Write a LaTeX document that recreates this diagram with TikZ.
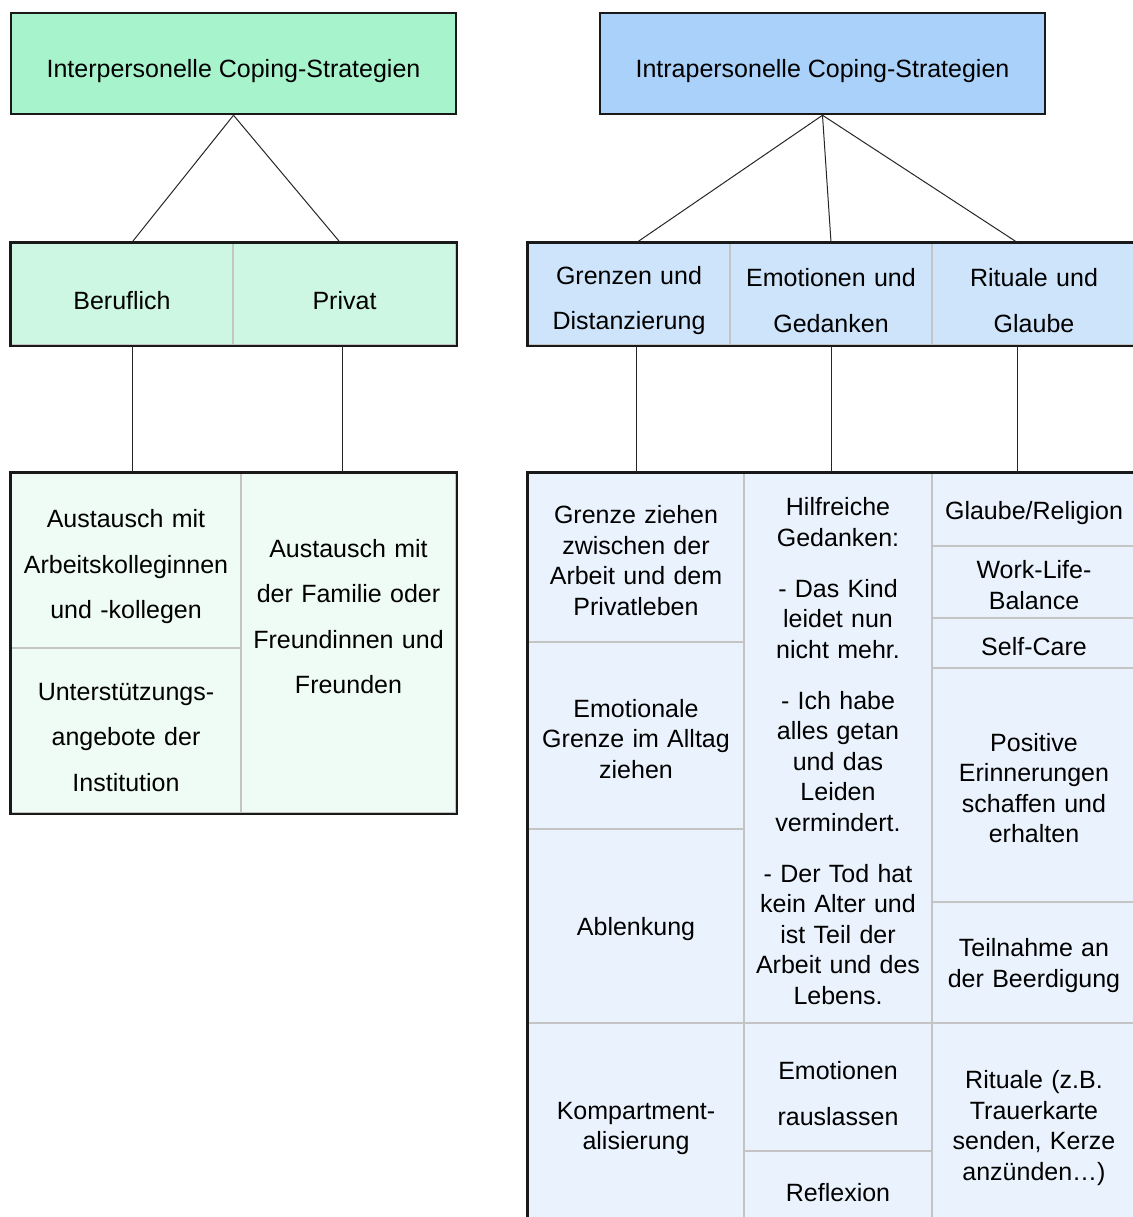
\documentclass[tikz,border=0pt]{standalone}
\usepackage{fontspec}
\setmainfont{Liberation Sans}

\definecolor{interTop}{HTML}{A6F3CC}
\definecolor{interMid}{HTML}{CEF7E3}
\definecolor{interLow}{HTML}{EFFCF5}
\definecolor{intraTop}{HTML}{A9D1F9}
\definecolor{intraMid}{HTML}{CDE4FA}
\definecolor{intraLow}{HTML}{EAF3FD}
\definecolor{cellgray}{HTML}{C4C4C4}

\begin{document}
\begin{tikzpicture}[x=1pt, y={(0pt,-1pt)}, font=\fontsize{25}{30.5}\selectfont]
\tikzstyle{TopStyle}=[draw=black!90, line width=2.5pt, minimum width=445pt, minimum height=101pt, inner sep=0pt, text height=29pt, text depth=0pt]
\tikzstyle{CellStyle}=[draw=cellgray, line width=1.5pt, inner sep=0pt, align=center, text width=187pt]
\tikzstyle{TightLines}=[font=\fontsize{25}{30.5}\selectfont, execute at begin node={\rule{0pt}{24.5pt}}]
\tikzstyle{WideLines}=[font=\fontsize{25}{45.5}\selectfont, execute at begin node={\rule{0pt}{31pt}}]
\tikzstyle{FrameStyle}=[draw=black!90, line width=2.5pt]
\tikzstyle{EdgeStyle}=[draw=black!85, line width=1pt]
\useasboundingbox (0,0) rectangle (1132,1217);
% top boxes
\node[TopStyle, fill=interTop] (inter) at (233.5,63.5) {Interpersonelle Coping-Strategien};
\node[TopStyle, fill=intraTop] (intra) at (822.5,63.5) {Intrapersonelle Coping-Strategien};
% interpersonal, middle row
\node[CellStyle, WideLines, fill=interMid, minimum width=222pt, minimum height=102pt] (beruf) at (122,294) {Beruflich};
\node[CellStyle, WideLines, fill=interMid, minimum width=223pt, minimum height=102pt] (privat) at (344.5,294) {Privat};
\draw[FrameStyle] (beruf.north west) rectangle (privat.south east);
% intrapersonal, middle row
\node[CellStyle, WideLines, fill=intraMid, minimum width=202pt, minimum height=102pt] (grenzen) at (629,294) {Grenzen und\\Distanzierung};
\node[CellStyle, WideLines, fill=intraMid, minimum width=202pt, minimum height=102pt] (emotionen) at (831,294) {Emotionen und\\Gedanken};
\node[CellStyle, WideLines, fill=intraMid, minimum width=204pt, minimum height=102pt] (rituale) at (1034,294) {Rituale und\\Glaube};
\draw[FrameStyle] (grenzen.north west) rectangle (rituale.south east);
% interpersonal, lower row
\node[CellStyle, WideLines, text width=212pt, fill=interLow, minimum width=230pt, minimum height=175pt] (kollegen) at (126,560.5) {Austausch mit\\Arbeitskolleginnen\\und -kollegen};
\node[CellStyle, WideLines, text width=212pt, fill=interLow, minimum width=230pt, minimum height=165pt] (angebote) at (126,730.5) {Unterstützungs-\\angebote der\\Institution};
\node[CellStyle, fill=interLow, minimum width=215pt, minimum height=340pt] (familie) at (348.5,643) {};
\node[WideLines, align=center, text width=205pt, inner sep=0pt] (familietext) at (348.5,610) {Austausch mit\\der Familie oder\\Freundinnen und\\Freunden};
\draw[FrameStyle] (kollegen.north west) rectangle (familie.south east);
% intrapersonal, lower row
\node[CellStyle, TightLines, text width=210pt, fill=intraLow, minimum width=216pt, minimum height=169pt] (ziehen) at (636,557.5) {Grenze ziehen\\zwischen der\\Arbeit und dem\\Privatleben};
\node[CellStyle, TightLines, text width=210pt, fill=intraLow, minimum width=216pt, minimum height=187pt] (alltag) at (636,735.5) {Emotionale\\Grenze im Alltag\\ziehen};
\node[CellStyle, TightLines, text width=210pt, fill=intraLow, minimum width=216pt, minimum height=194pt] (ablenkung) at (636,926) {Ablenkung};
\node[CellStyle, TightLines, text width=210pt, fill=intraLow, minimum width=216pt, minimum height=204pt] (kompart) at (636,1125) {Kompartment-\\alisierung};
\node[CellStyle, TightLines, fill=intraLow, minimum width=188pt, minimum height=550pt] (gedanken) at (838,748) {Hilfreiche\\Gedanken:\\[20.5pt]- Das Kind\\leidet nun\\nicht mehr.\\[20.5pt]- Ich habe\\alles getan\\und das\\Leiden\\vermindert.\\[20.5pt]- Der Tod hat\\kein Alter und\\ist Teil der\\Arbeit und des\\Lebens.};
\node[CellStyle, WideLines, fill=intraLow, minimum width=188pt, minimum height=128pt] (rauslassen) at (838,1087) {Emotionen\\rauslassen};
\node[CellStyle, TightLines, fill=intraLow, minimum width=188pt, minimum height=76pt] (reflexion) at (838,1189) {Reflexion};
\node[CellStyle, TightLines, fill=intraLow, minimum width=204pt, minimum height=73pt] (religion) at (1034,509.5) {Glaube/Religion};
\node[CellStyle, TightLines, fill=intraLow, minimum width=204pt, minimum height=72pt] (balance) at (1034,582) {Work-Life-\\Balance};
\node[CellStyle, TightLines, fill=intraLow, minimum width=204pt, minimum height=50pt] (selfcare) at (1034,643) {Self-Care};
\node[CellStyle, TightLines, fill=intraLow, minimum width=204pt, minimum height=234pt] (erinnerung) at (1034,785) {Positive\\Erinnerungen\\schaffen und\\erhalten};
\node[CellStyle, TightLines, fill=intraLow, minimum width=204pt, minimum height=121pt] (beerdigung) at (1034,962.5) {Teilnahme an\\der Beerdigung};
\node[CellStyle, TightLines, fill=intraLow, minimum width=204pt, minimum height=204pt] (trauer) at (1034,1125) {Rituale (z.B.\\Trauerkarte\\senden, Kerze\\anzünden…)};
\draw[FrameStyle] (ziehen.north west) rectangle (trauer.south east);
% connectors
\draw[EdgeStyle] (inter.south) -- ([xshift=10pt]beruf.north);
\draw[EdgeStyle] (inter.south) -- ([xshift=-4.5pt]privat.north);
\draw[EdgeStyle] ([xshift=10pt]beruf.south) -- ([xshift=6pt]kollegen.north);
\draw[EdgeStyle] ([xshift=-2.5pt]privat.south) -- ([xshift=-6.5pt]familie.north);
\draw[EdgeStyle] (intra.south) -- ([xshift=8pt]grenzen.north);
\draw[EdgeStyle] (intra.south) -- (emotionen.north);
\draw[EdgeStyle] (intra.south) -- ([xshift=-17pt]rituale.north);
\draw[EdgeStyle] (ziehen.north |- grenzen.south) -- (ziehen.north);
\draw[EdgeStyle] (emotionen.south) -- (emotionen.south |- gedanken.north);
\draw[EdgeStyle] ([xshift=-17pt]rituale.south) -- ([xshift=-17pt]religion.north);
\end{tikzpicture}
\end{document}
